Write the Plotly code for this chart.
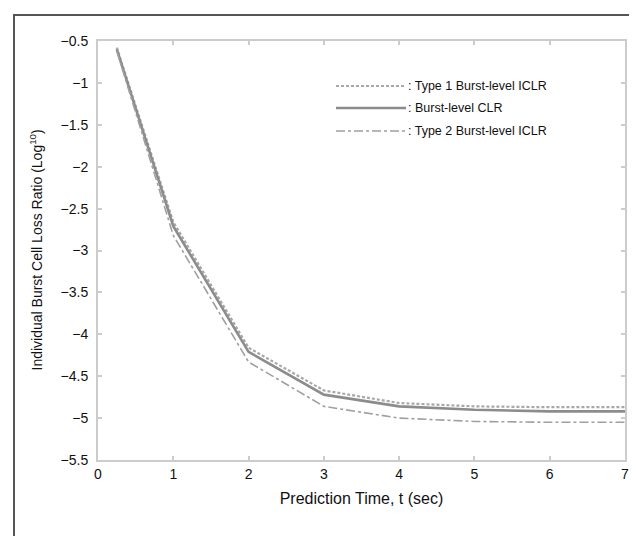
import plotly.graph_objects as go

t = [0.25, 0.5, 0.75, 1, 2, 3, 4, 5, 6, 7]
type1_iclr = [-0.58, -1.28, -1.98, -2.66, -4.16, -4.67, -4.82, -4.86, -4.87, -4.87]
burst_clr = [-0.60, -1.31, -2.01, -2.71, -4.21, -4.72, -4.86, -4.90, -4.92, -4.92]
type2_iclr = [-0.62, -1.36, -2.10, -2.82, -4.33, -4.86, -5.00, -5.04, -5.05, -5.05]

y_ticks = [-5.5, -5, -4.5, -4, -3.5, -3, -2.5, -2, -1.5, -1, -0.5]
y_tick_text = [("\u2212" + f"{abs(v):g}") for v in y_ticks]
x_ticks = [0, 1, 2, 3, 4, 5, 6, 7]

legend_names = [": Type 1 Burst-level ICLR", ": Burst-level CLR", ": Type 2 Burst-level ICLR"]
styles = [
    dict(color="#a8a8a8", width=2.2, dash="3px,2px"),
    dict(color="#8c8c8c", width=2.6, dash="solid"),
    dict(color="#a0a0a0", width=1.6, dash="dashdot"),
]

fig = go.Figure()
for name, ys, st in zip(legend_names, [type1_iclr, burst_clr, type2_iclr], styles):
    fig.add_trace(go.Scatter(x=t, y=ys, mode="lines", name=name.lstrip(": "),
                             line=st, showlegend=False))

W, H = 637, 536
L, R, T, B = 90, 20, 33, 84
pw, ph = W - L - R, H - T - B

def px(xp):
    return (xp - L) / pw

def py(yp):
    return 1 - (yp - T) / ph

FONT = "Liberation Sans, Arial, sans-serif"
shapes = []
annotations = []
rows = [78, 100, 123]
for name, st, yy in zip(legend_names, styles, rows):
    shapes.append(dict(type="line", xref="paper", yref="paper",
                       x0=px(328), x1=px(398), y0=py(yy), y1=py(yy), line=st))
    annotations.append(dict(text=name, xref="paper", yref="paper", x=px(398), y=py(yy),
                            xanchor="left", yanchor="middle", showarrow=False,
                            font=dict(family=FONT, size=12.5, color="#111")))

# outer frame
shapes.append(dict(type="rect", xref="paper", yref="paper",
                   x0=px(6), x1=px(635), y0=py(7), y1=py(534.5),
                   line=dict(color="#555", width=2)))

annotations.append(dict(text="Individual Burst Cell Loss Ratio (Log<sup>10</sup>)",
                        xref="paper", yref="paper", x=px(28), y=0.5, textangle=-90,
                        xanchor="center", yanchor="middle", showarrow=False,
                        font=dict(family=FONT, size=14, color="#111")))

axis_common = dict(showline=True, linecolor="#cccccc", linewidth=2, mirror="ticks",
                   ticks="inside", ticklen=4, tickcolor="#cccccc", tickwidth=1.5,
                   showgrid=False, zeroline=False,
                   tickfont=dict(family=FONT, size=14, color="#111"))

fig.update_layout(
    width=W, height=H, margin=dict(l=L, r=R, t=T, b=B),
    paper_bgcolor="white", plot_bgcolor="white",
    font=dict(family=FONT, color="#111"),
    shapes=shapes, annotations=annotations,
    xaxis=dict(range=[0, 7], tickvals=x_ticks,
               title=dict(text="Prediction Time, t (sec)", font=dict(size=16), standoff=12),
               **axis_common),
    yaxis=dict(range=[-5.5, -0.5], tickvals=y_ticks, ticktext=y_tick_text,
               ticklabelstandoff=5, **axis_common),
)

fig.write_html("out.html")
